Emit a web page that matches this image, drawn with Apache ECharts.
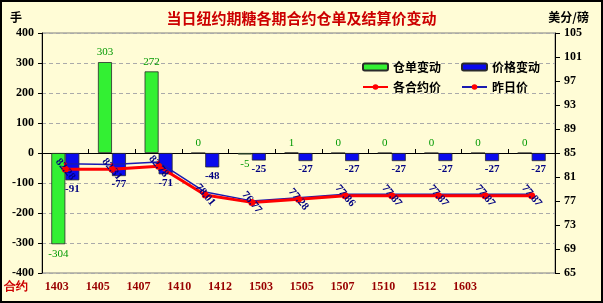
<!DOCTYPE html>
<html><head><meta charset="utf-8">
<script src="https://cdn.jsdelivr.net/npm/echarts@6/dist/echarts.min.js"></script>
<style>html,body{margin:0;padding:0;background:#FFFCD6}#c{width:603px;height:303px}</style>
</head><body><div id="c"></div>
<script>
const categories = ['1403','1405','1407','1410','1412','1503','1505','1507','1510','1512','1603'];
const rowLabels = ['合约','1403','1405','1407','1410','1412','1503','1505','1507','1510','1512','1603'];
const warrantChange = [-304, 303, 272, 0, -5, 1, 0, 0, 0, 0, 0];
const priceChange = [-91, -77, -71, -48, -25, -27, -27, -27, -27, -27, -27];
const todayPrice = [82.28, 82.31, 82.78, 78.01, 76.77, 77.28, 77.86, 77.87, 77.87, 77.87, 77.87];
const prevPrice = [83.19, 83.08, 83.49, 78.49, 77.02, 77.55, 78.13, 78.14, 78.14, 78.14, 78.14];
const leftTicks = {min: -400, max: 400, interval: 100};
const rightTicks = {min: 65, max: 105, interval: 4};

const serifNum = "'Times New Roman','Liberation Serif',serif";
const cjk = "'Noto Sans CJK SC',sans-serif";

function barData(vals) {
  return vals.map(v => ({value: v, label: {position: v < 0 ? 'bottom' : 'top'}}));
}

const chart = echarts.init(document.getElementById('c'), null, {renderer: 'canvas'});
chart.setOption({
  backgroundColor: '#FFFCD6',
  animation: false,
  title: [
    {text: '当日纽约期糖各期合约仓单及结算价变动', left: 'center', top: 6,
     textStyle: {color: '#CC0000', fontSize: 15, fontWeight: 'bold', fontFamily: cjk}},
    {text: '手', left: 5, top: 6, textStyle: {color: '#000', fontSize: 12, fontWeight: 'bold', fontFamily: cjk}},
    {text: '美分/磅', right: 9, top: 6, textStyle: {color: '#000', fontSize: 12, fontWeight: 'bold', fontFamily: cjk}}
  ],
  legend: [
    {data: ['仓单变动', '价格变动'], left: 357, top: 56, itemWidth: 25, itemHeight: 7, itemGap: 20,
     textStyle: {fontSize: 12, fontWeight: 'bold', fontFamily: cjk, color: '#000'}},
    {data: ['各合约价', '昨日价'], left: 357, top: 76, itemWidth: 25, itemHeight: 7, itemGap: 20,
     textStyle: {fontSize: 12, fontWeight: 'bold', fontFamily: cjk, color: '#000'}}
  ],
  graphic: [{type: 'rect', shape: {x: 1, y: 1, width: 601, height: 301},
             style: {fill: 'none', stroke: '#000', lineWidth: 2}, z: 100}],
  grid: [
    {left: 42, right: 48, top: 33, bottom: 30, show: true, borderColor: '#808080', borderWidth: 1, backgroundColor: 'transparent'},
    {left: 16, width: 449, top: 278, height: 2}
  ],
  xAxis: [
    {type: 'category', gridIndex: 0, data: categories,
     axisLine: {onZero: true, lineStyle: {color: '#000', width: 1}},
     axisTick: {show: true, inside: true, length: 4, lineStyle: {color: '#000'}},
     axisLabel: {show: false}},
    {type: 'category', gridIndex: 1, data: rowLabels, boundaryGap: false,
     axisLine: {show: false}, axisTick: {show: false},
     axisLabel: {interval: 0, margin: 1, fontSize: 12, fontWeight: 'bold', fontFamily: serifNum,
       color: (v) => v === '合约' ? '#CC0000' : '#990000',
       rich: {}}}
  ],
  yAxis: [
    {type: 'value', gridIndex: 0, min: leftTicks.min, max: leftTicks.max, interval: leftTicks.interval,
     axisLine: {show: true, lineStyle: {color: '#000'}},
     axisTick: {show: true, length: 4, lineStyle: {color: '#000'}},
     axisLabel: {color: '#000', fontSize: 12, fontWeight: 'bold', fontFamily: serifNum, margin: 8},
     splitLine: {show: true, lineStyle: {color: '#AAAAAA', type: [4, 3]}}},
    {type: 'value', gridIndex: 0, position: 'right', min: rightTicks.min, max: rightTicks.max, interval: rightTicks.interval,
     axisLine: {show: true, lineStyle: {color: '#000'}},
     axisTick: {show: true, length: 5, lineStyle: {color: '#000'}},
     axisLabel: {color: '#000', fontSize: 12, fontWeight: 'bold', fontFamily: serifNum, margin: 9},
     splitLine: {show: false}},
    {type: 'value', gridIndex: 1, show: false}
  ],
  series: [
    {name: '仓单变动', type: 'bar', xAxisIndex: 0, yAxisIndex: 0, barWidth: 14, barGap: '0%',
     data: barData(warrantChange),
     itemStyle: {color: '#33F033', borderColor: '#2a2a2a', borderWidth: 0.8},
     label: {show: true, distance: 4, color: '#009900', fontSize: 11, fontFamily: serifNum}},
    {name: '价格变动', type: 'bar', xAxisIndex: 0, yAxisIndex: 0, barWidth: 14, barGap: '0%',
     data: barData(priceChange),
     itemStyle: {color: '#0A0AEE', borderColor: '#2a2a2a', borderWidth: 0.8},
     label: {show: true, distance: 3, color: '#000080', fontSize: 11, fontWeight: 'bold', fontFamily: serifNum}},
    {name: '昨日价', type: 'line', xAxisIndex: 0, yAxisIndex: 1, data: prevPrice,
     symbol: 'circle', symbolSize: 3, itemStyle: {color: '#FF0000'},
     lineStyle: {color: '#1A1AB0', width: 1.5}, z: 3},
    {name: '各合约价', type: 'line', xAxisIndex: 0, yAxisIndex: 1, data: todayPrice,
     symbol: 'circle', symbolSize: 7, itemStyle: {color: '#FF0000'},
     lineStyle: {color: '#FF0000', width: 3}, z: 4,
     label: {show: true, position: 'inside', rotate: -50, color: '#000080', fontSize: 11, fontWeight: 'bold',
       fontFamily: serifNum, formatter: (p) => p.value.toFixed(2)}}
  ]
});
</script></body></html>
